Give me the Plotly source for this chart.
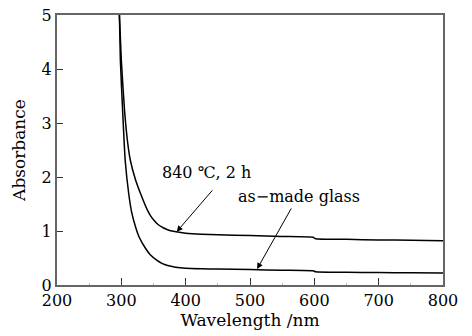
import plotly.graph_objects as go

# Wavelength (nm) and absorbance for the heat-treated glass (840 °C, 2 h)
wl_treated = [297, 300, 305, 310, 314, 322, 330, 340, 345, 350, 357, 365, 375, 385, 400, 425, 450, 500, 550, 598, 602, 650, 700, 750, 800]
abs_treated = [5.0, 4.16, 3.23, 2.62, 2.31, 1.95, 1.69, 1.40, 1.29, 1.21, 1.12, 1.06, 1.01, 0.985, 0.96, 0.94, 0.93, 0.915, 0.90, 0.885, 0.855, 0.845, 0.835, 0.828, 0.82]

# As-made glass
wl_asmade = [297, 298.5, 302, 306, 311.5, 316, 322, 328, 337, 345, 355, 363, 372, 384, 400, 425, 450, 500, 550, 598, 602, 650, 700, 750, 800]
abs_asmade = [5.0, 4.16, 3.23, 2.31, 1.69, 1.35, 1.08, 0.88, 0.69, 0.56, 0.46, 0.40, 0.36, 0.33, 0.31, 0.30, 0.295, 0.285, 0.275, 0.265, 0.245, 0.235, 0.23, 0.225, 0.22]

x_ticks = [200, 300, 400, 500, 600, 700, 800]
y_ticks = [0, 1, 2, 3, 4, 5]

label_treated = "840 ℃, 2 h"
label_asmade = "as−made glass"

FONT = "DejaVu Serif"

fig = go.Figure()
fig.add_trace(go.Scatter(x=wl_treated, y=abs_treated, mode="lines",
                         line=dict(color="black", width=1.5, shape="spline", smoothing=0.5), showlegend=False))
fig.add_trace(go.Scatter(x=wl_asmade, y=abs_asmade, mode="lines",
                         line=dict(color="black", width=1.5, shape="spline", smoothing=0.5), showlegend=False))

# arrows
fig.add_annotation(x=386, y=0.985, xref="x", yref="y", text="", showarrow=True,
                   ax=37, ay=-43, arrowhead=2, arrowsize=1.2, arrowwidth=1, arrowcolor="black", standoff=0)
fig.add_annotation(x=511, y=0.296, xref="x", yref="y", text="", showarrow=True,
                   ax=35, ay=-62, arrowhead=2, arrowsize=1.2, arrowwidth=1, arrowcolor="black", standoff=0)
# labels
fig.add_annotation(x=433, y=2.09, xref="x", yref="y", text=label_treated, showarrow=False,
                   xanchor="center", yanchor="middle", font=dict(family=FONT, size=16, color="black"))
fig.add_annotation(x=576, y=1.645, xref="x", yref="y", text=label_asmade, showarrow=False,
                   xanchor="center", yanchor="middle", font=dict(family=FONT, size=16, color="black"))

axis_common = dict(showline=True, linecolor="#666", linewidth=2, mirror=True,
                   ticks="inside", tickcolor="#333", showgrid=False, zeroline=False,
                   automargin=False,
                   tickfont=dict(family=FONT, size=16, color="black"))

fig.update_xaxes(range=[200, 800], tickvals=x_ticks, ticklen=7,
                 title=dict(text="Wavelength /nm", font=dict(family=FONT, size=17, color="black"), standoff=5),
                 minor=dict(ticks="inside", ticklen=2, tickcolor="#bbb", dtick=50),
                 **axis_common)
fig.update_yaxes(range=[0, 5], tickvals=y_ticks, ticklen=6,
                 title=dict(text="Absorbance", font=dict(family=FONT, size=17, color="black"), standoff=12),
                 **axis_common)

fig.update_layout(width=472, height=336, margin=dict(l=57, r=29, t=15, b=51),
                  plot_bgcolor="white", paper_bgcolor="white",
                  font=dict(family=FONT, color="black"))

fig.write_html("out.html", config={"displayModeBar": False},
               post_script="document.body.style.margin='0';document.body.style.padding='0';")
